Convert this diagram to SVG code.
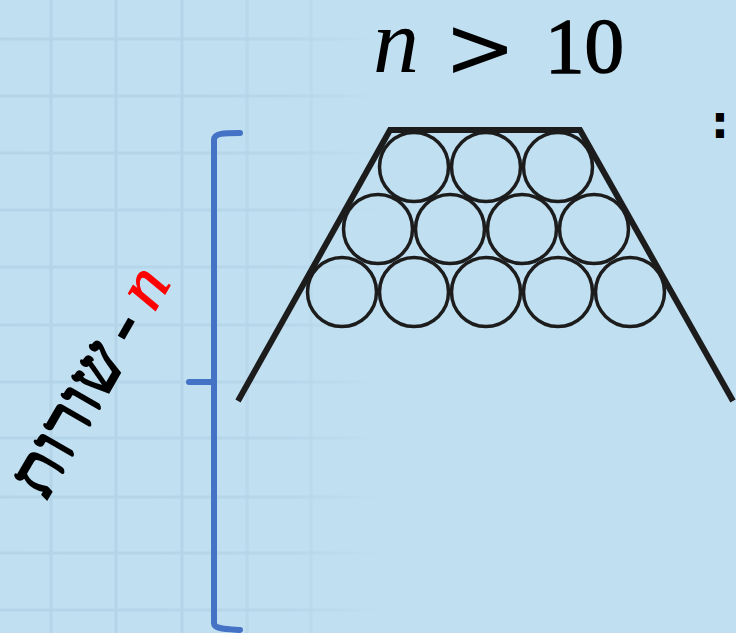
<svg xmlns="http://www.w3.org/2000/svg" width="736" height="633" viewBox="0 0 736 633">
<defs>
<linearGradient id="fadeH" x1="0" y1="0" x2="1" y2="0">
<stop offset="0" stop-color="#b4d4e8" stop-opacity="1"/>
<stop offset="0.75" stop-color="#b4d4e8" stop-opacity="0.8"/>
<stop offset="1" stop-color="#b4d4e8" stop-opacity="0"/>
</linearGradient>
<style>
.circ{fill:none;stroke:#1c1c1c;stroke-width:3.5}
.frame{fill:none;stroke:#1c1c1c;stroke-width:6;stroke-linejoin:miter}
.brace{fill:none;stroke:#4472c4;stroke-width:6;stroke-linecap:round;stroke-linejoin:round}
.serif{font-family:"Liberation Serif","DejaVu Serif",serif}
.hl{fill:url(#fadeH)}
</style>
</defs>
<rect width="736" height="633" fill="#c0dff1"/>
<g id="grid">
<g stroke="#b4d4e8" stroke-width="3">
<line x1="51" y1="0" x2="51" y2="633"/>
<line x1="116" y1="0" x2="116" y2="633"/>
<line x1="182" y1="0" x2="182" y2="633"/>
<line x1="247" y1="0" x2="247" y2="633" stroke-opacity="0.6"/>
<line x1="311" y1="0" x2="311" y2="633" stroke-opacity="0.4"/>
</g>
<g>
<rect class="hl" x="0" y="37.5" width="380" height="3"/>
<rect class="hl" x="0" y="94.5" width="380" height="3"/>
<rect class="hl" x="0" y="151.5" width="380" height="3"/>
<rect class="hl" x="0" y="208.5" width="380" height="3"/>
<rect class="hl" x="0" y="265.5" width="380" height="3"/>
<rect class="hl" x="0" y="323.5" width="380" height="3"/>
<rect class="hl" x="0" y="380.5" width="380" height="3"/>
<rect class="hl" x="0" y="436.5" width="380" height="3"/>
<rect class="hl" x="0" y="495.5" width="380" height="3"/>
<rect class="hl" x="0" y="551.5" width="380" height="3"/>
<rect class="hl" x="0" y="608.5" width="380" height="3"/>
</g>
</g>
<g id="title" fill="#000">
<text class="serif" x="373" y="72" font-size="92" font-style="italic">n</text>
<text x="444" y="77" font-size="86" font-family="'DejaVu Sans',sans-serif">&gt;</text>
<text class="serif" x="545" y="72" font-size="79" stroke="#000" stroke-width="1.5">10</text>
</g>
<g id="colon">
<text x="720" y="138" font-size="46" font-weight="bold" text-anchor="middle" font-family="'DejaVu Sans',sans-serif" fill="#000">:</text>
</g>
<g id="brace">
<path class="brace" d="M240,133 C224,133 214,133 214,140 L214,623 C214,629 224,629 240,630"/>
<path class="brace" d="M189,382 L214,382"/>
</g>
<g id="label" transform="translate(40,511) rotate(-60)">
<text class="serif" x="178" y="0" font-size="67" letter-spacing="2" text-anchor="end" fill="#000" stroke="#000" stroke-width="2.5">שורות</text>
<text class="serif" x="201" y="0" font-size="70" text-anchor="middle" fill="#000" stroke="#000" stroke-width="2.5">-</text>
<text class="serif" x="246" y="0" font-size="70" text-anchor="middle" font-style="italic" fill="#ff0000" stroke="#ff0000" stroke-width="1">n</text>
</g>
<g id="trough">
<polyline class="frame" points="238,401 390,130 580,130 733,401"/>
</g>
<g id="pipes">
<circle class="circ" cx="414" cy="167" r="34.5"/>
<circle class="circ" cx="486" cy="167" r="34.5"/>
<circle class="circ" cx="558" cy="167" r="34.5"/>
<circle class="circ" cx="378" cy="229" r="34.5"/>
<circle class="circ" cx="450" cy="229" r="34.5"/>
<circle class="circ" cx="522" cy="229" r="34.5"/>
<circle class="circ" cx="594" cy="229" r="34.5"/>
<circle class="circ" cx="342" cy="292" r="34.5"/>
<circle class="circ" cx="414" cy="292" r="34.5"/>
<circle class="circ" cx="486" cy="292" r="34.5"/>
<circle class="circ" cx="558" cy="292" r="34.5"/>
<circle class="circ" cx="630" cy="292" r="34.5"/>
</g>
</svg>
